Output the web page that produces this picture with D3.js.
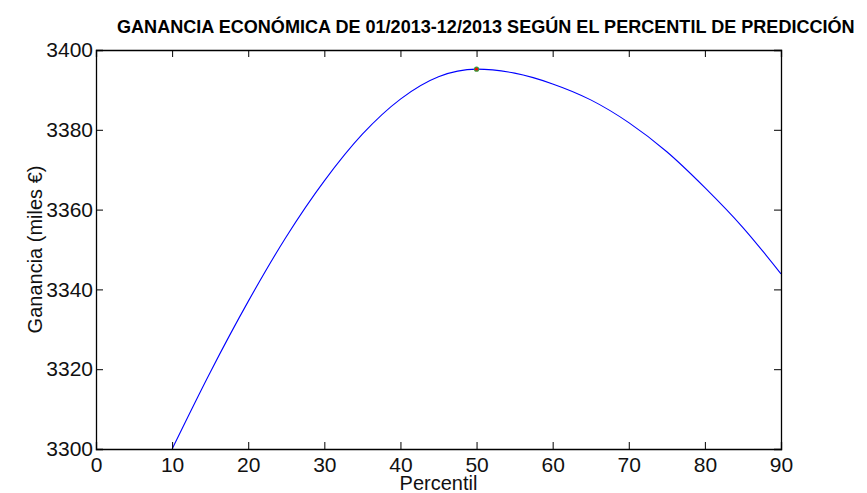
<!DOCTYPE html>
<html>
<head>
<meta charset="utf-8">
<script src="https://cdn.jsdelivr.net/npm/d3@7"></script>
<style>
  body { margin: 0; background: #fff; }
  svg { display: block; font-family: "Liberation Sans", Arial, sans-serif; }
</style>
</head>
<body>
<svg id="chart" width="867" height="493"></svg>
<script>
// datos
const percentil = [10, 15, 20, 25, 30, 35, 40, 45, 50, 55, 60, 65, 70, 75, 80, 85, 90];
const ganancia = [3300.0, 3319.2, 3337.0, 3353.2, 3367.2, 3378.9, 3387.7, 3393.3, 3395.2,
                  3394.2, 3391.5, 3387.5, 3381.8, 3374.5, 3365.5, 3355.5, 3343.9];
const optimo = { x: 50, y: 3395.2 };
const xTicks = [0, 10, 20, 30, 40, 50, 60, 70, 80, 90];
const yTicks = [3300, 3320, 3340, 3360, 3380, 3400];

const svg = d3.select("#chart");
const m = { left: 96, right: 781, top: 50, bottom: 449 };

const x = d3.scaleLinear().domain([0, 90]).range([m.left, m.right]);
const y = d3.scaleLinear().domain([3300, 3400]).range([m.bottom, m.top]);

// título: letra estrecha y alta, ajustada al ancho disponible
const titulo = svg.append("text")
  .attr("font-size", 19).attr("font-weight", "bold")
  .text("GANANCIA ECONÓMICA DE 01/2013-12/2013 SEGÚN EL PERCENTIL DE PREDICCIÓN");
const ancho = titulo.node().getComputedTextLength();
const fs = 19 * 738 / ancho;
titulo.attr("font-size", fs)
  .attr("transform", `translate(117,33) scale(1,${19 / fs})`);

// curva (recortada al área de ejes)
svg.append("clipPath").attr("id", "clip")
  .append("rect").attr("x", m.left).attr("y", m.top)
  .attr("width", m.right - m.left).attr("height", m.bottom - m.top);

const line = d3.line()
  .x((d, i) => x(percentil[i]))
  .y(d => y(d))
  .curve(d3.curveMonotoneX);

svg.append("path")
  .datum(ganancia)
  .attr("clip-path", "url(#clip)")
  .attr("fill", "none")
  .attr("stroke", "#0000ff")
  .attr("stroke-width", 1.1)
  .attr("d", line);

// punto óptimo
svg.append("circle")
  .attr("cx", x(optimo.x)).attr("cy", y(optimo.y))
  .attr("r", 2.6).attr("fill", "#3a9a3a");
svg.append("circle")
  .attr("cx", x(optimo.x)).attr("cy", y(optimo.y))
  .attr("r", 1.4).attr("fill", "#ff0000");

// ejes estilo MATLAB: ticks hacia dentro en los cuatro lados
const tk = 7;
const axB = svg.append("g").attr("transform", `translate(0,${m.bottom})`)
  .call(d3.axisBottom(x).tickValues(xTicks).tickSize(-tk).tickPadding(tk + 3));
const axT = svg.append("g").attr("transform", `translate(0,${m.top})`)
  .call(d3.axisTop(x).tickValues(xTicks).tickSize(-tk).tickFormat(""));
const axL = svg.append("g").attr("transform", `translate(${m.left},0)`)
  .call(d3.axisLeft(y).tickValues(yTicks).tickSize(-tk).tickPadding(-tk + 10).tickFormat(d3.format("d")));
const axR = svg.append("g").attr("transform", `translate(${m.right},0)`)
  .call(d3.axisRight(y).tickValues(yTicks).tickSize(-tk).tickFormat(""));

[axB, axT, axL, axR].forEach(a => {
  a.select(".domain").attr("stroke", "#000").attr("stroke-width", 1.3);
  a.selectAll(".tick line").attr("stroke", "#000").attr("stroke-width", 1);
  a.selectAll("text").attr("font-size", 21).attr("fill", "#111")
    .attr("font-family", "Liberation Sans, Arial, sans-serif");
});
axL.selectAll(".tick text").attr("x", -3);
axB.selectAll(".tick text").attr("y", 8);

// etiquetas de ejes
svg.append("text")
  .attr("x", (m.left + m.right) / 2).attr("y", 490)
  .attr("text-anchor", "middle").attr("font-size", 20).attr("fill", "#111")
  .text("Percentil");

svg.append("text")
  .attr("transform", `translate(42,${(m.top + m.bottom) / 2}) rotate(-90)`)
  .attr("text-anchor", "middle").attr("font-size", 20).attr("fill", "#111")
  .text("Ganancia (miles €)");
</script>
</body>
</html>
